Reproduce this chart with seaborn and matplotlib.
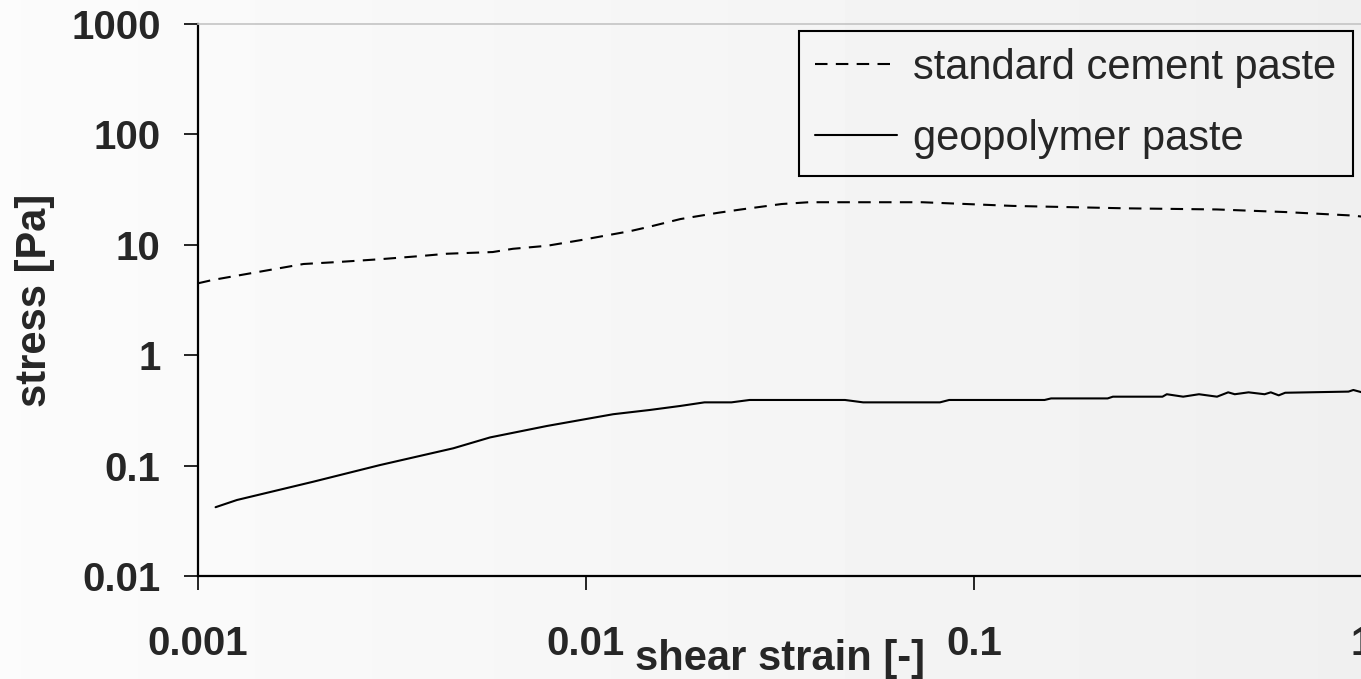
import numpy as np
import pandas as pd
import matplotlib
matplotlib.use("Agg")
import matplotlib.pyplot as plt
from matplotlib.ticker import NullLocator
import seaborn as sns

# ---- data ----
series_names = ["standard cement paste", "geopolymer paste"]

cement_strain = [0.001, 0.00109, 0.00187, 0.00232, 0.00294, 0.00373, 0.00438, 0.00575,
                 0.00648, 0.00794, 0.00966, 0.0130, 0.0146, 0.0175, 0.0219, 0.0251,
                 0.0319, 0.0375, 0.0735, 0.126, 0.246, 0.423, 0.634, 0.948, 1.0]
cement_stress = [4.48, 4.8, 6.7, 7.0, 7.4, 7.9, 8.3, 8.6,
                 9.2, 9.8, 11.0, 13.3, 14.6, 17.1, 19.5, 20.9,
                 23.4, 24.3, 24.3, 22.5, 21.4, 20.9, 19.8, 18.4, 18.0]

geo_strain = [0.00111, 0.00126, 0.00198, 0.00294, 0.00455, 0.00566, 0.00793, 0.01175,
              0.0146, 0.0175, 0.0202, 0.0237, 0.0264, 0.0465, 0.0518, 0.0817,
              0.0863, 0.152, 0.158, 0.221, 0.228, 0.306, 0.314, 0.346,
              0.38, 0.423, 0.452, 0.47, 0.51, 0.561, 0.582, 0.61,
              0.634, 0.923, 0.95, 1.0]
geo_stress = [0.042, 0.0488, 0.0714, 0.101, 0.1435, 0.180, 0.2285, 0.292,
              0.319, 0.347, 0.374, 0.374, 0.393, 0.393, 0.374, 0.374,
              0.393, 0.393, 0.406, 0.406, 0.421, 0.421, 0.443, 0.421,
              0.443, 0.421, 0.461, 0.443, 0.461, 0.443, 0.461, 0.433,
              0.457, 0.468, 0.484, 0.461]

x_ticks = [0.001, 0.01, 0.1, 1]
x_tick_labels = ["0.001", "0.01", "0.1", "1"]
y_ticks = [0.01, 0.1, 1, 10, 100, 1000]
y_tick_labels = ["0.01", "0.1", "1", "10", "100", "1000"]

# ---- style ----
sns.set_style("ticks")
plt.rcParams["font.family"] = ["Liberation Sans", "DejaVu Sans"]

df = pd.concat([
    pd.DataFrame({"strain": cement_strain, "stress": cement_stress, "series": series_names[0]}),
    pd.DataFrame({"strain": geo_strain, "stress": geo_stress, "series": series_names[1]}),
], ignore_index=True)

fig = plt.figure(figsize=(13.61, 6.79), dpi=100)

# soft horizontal background gradient
bg = fig.add_axes([0, 0, 1, 1], zorder=-10)
grad = np.linspace(0.985, 0.94, 256).reshape(1, -1)
bg.imshow(grad, cmap="gray", vmin=0, vmax=1, aspect="auto", extent=[0, 1, 0, 1])
bg.axis("off")

ax = fig.add_axes([198 / 1361, 103 / 679, 1164 / 1361, 552 / 679])
ax.set_facecolor("none")

sns.lineplot(data=df, x="strain", y="stress", hue="series", style="series",
             hue_order=series_names, style_order=series_names,
             palette=["black", "black"],
             dashes={series_names[0]: (6, 4), series_names[1]: ""},
             sort=False, estimator=None, linewidth=1.5, ax=ax)

ax.set_xscale("log")
ax.set_yscale("log")
ax.set_xlim(0.001, 1)
ax.set_ylim(0.01, 1000)
ax.set_xticks(x_ticks, x_tick_labels)
ax.set_yticks(y_ticks, y_tick_labels)
ax.xaxis.set_minor_locator(NullLocator())
ax.yaxis.set_minor_locator(NullLocator())

for s in ["left", "bottom"]:
    ax.spines[s].set_color("black")
    ax.spines[s].set_linewidth(1.6)
ax.spines["top"].set_color("#c4c4c4")
ax.spines["top"].set_linewidth(1.2)
ax.spines["right"].set_visible(False)

ax.tick_params(axis="both", which="major", direction="out", length=10, width=1.2,
               color="black", labelsize=29)
ax.tick_params(axis="x", pad=25)
ax.tick_params(axis="y", pad=17)
for lab in ax.get_xticklabels() + ax.get_yticklabels():
    lab.set_fontweight("bold")

ax.set_xlabel("shear strain [-]", fontsize=30, fontweight="bold")
ax.xaxis.set_label_coords(0.5, (576 - 639) / 552)
ax.set_ylabel("stress [Pa]", fontsize=30, fontweight="bold")
ax.yaxis.set_label_coords((55 - 198) / 1164, 0.5)

handles, labels = ax.get_legend_handles_labels()
leg = ax.legend(handles, labels, loc="upper right",
                bbox_to_anchor=(1353 / 1361, 1 - 31 / 679), bbox_transform=fig.transFigure,
                borderaxespad=0, fontsize=30, frameon=True, fancybox=False,
                edgecolor="black", facecolor="none", framealpha=1,
                handlelength=1.95, handletextpad=0.4, borderpad=0.4, labelspacing=0.75)
leg.get_frame().set_linewidth(1.5)
for h in leg.get_lines():
    h.set_linewidth(1.5)

fig.savefig("out.png", dpi=100)
